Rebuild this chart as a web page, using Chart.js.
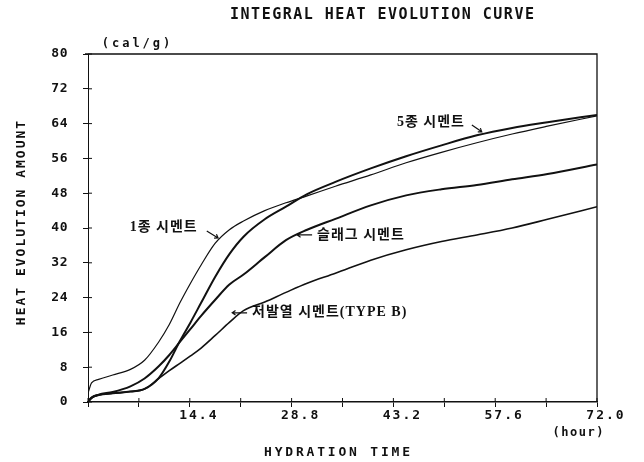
<!DOCTYPE html>
<html>
<head>
<meta charset="utf-8">
<script src="https://cdn.jsdelivr.net/npm/chart.js@4.4.1/dist/chart.umd.min.js"></script>
<style>
  html, body { margin: 0; padding: 0; background: #fff; }
</style>
</head>
<body>
<canvas id="heatChart" width="644" height="462"></canvas>
<script>
// hydration time (hour) and integral heat (cal/g)
const hours   = [0, 0.5, 1.5, 3.5, 6, 8, 10, 11.5, 13, 14.5, 16, 18, 20, 22, 25, 28, 31, 35, 40, 45, 50, 55, 60, 65, 72];
const type1   = [2.0, 4.4, 5.2, 6.2, 7.5, 9.6, 13.8, 17.8, 22.8, 27.3, 31.5, 36.5, 39.6, 41.6, 44.0, 45.8, 47.4, 49.6, 52.2, 55.0, 57.4, 59.6, 61.6, 63.4, 65.8];
const type5   = [0, 1.0, 1.6, 2.0, 2.4, 3.0, 5.5, 9.3, 14.0, 18.3, 22.8, 28.8, 34.0, 38.0, 42.0, 44.9, 47.8, 50.6, 53.7, 56.5, 59.0, 61.3, 63.0, 64.3, 66.0];
const slag    = [0, 1.0, 1.7, 2.3, 3.6, 5.4, 8.2, 10.8, 13.8, 16.8, 19.8, 23.5, 27.0, 29.3, 33.3, 37.2, 39.6, 42.1, 45.2, 47.5, 48.9, 49.9, 51.2, 52.4, 54.6];
const lowHeat = [0, 0.9, 1.6, 2.0, 2.4, 3.0, 5.4, 7.2, 8.9, 10.6, 12.4, 15.3, 18.3, 21.0, 23.0, 25.2, 27.3, 29.6, 32.6, 35.0, 36.9, 38.4, 40.0, 42.0, 44.9];

const xTickValues = [0, 7.2, 14.4, 21.6, 28.8, 36, 43.2, 50.4, 57.6, 64.8, 72];
const xTickLabels = ['', '', '14.4', '', '28.8', '', '43.2', '', '57.6', '', '72.0'];
const yTickValues = [0, 8, 16, 24, 32, 40, 48, 56, 64, 72, 80];

// curve labels and arrows, placed in data units (hour, cal/g)
const notes = [
    { text: '1종 시멘트', x: 5.9, y: 40.2, from: [16.8, 39.3], to: [18.4, 37.7] },
    { text: '5종 시멘트', x: 43.7, y: 64.3, from: [54.3, 63.7], to: [55.7, 62.1] },
    { text: '슬래그 시멘트', x: 32.4, y: 38.4, from: [31.7, 38.4], to: [29.6, 38.4] },
    { text: '저발열 시멘트(TYPE B)', x: 23.2, y: 20.5, from: [22.5, 20.5], to: [20.4, 20.5] }
];

const MONO = '"DejaVu Sans Mono", monospace';
const INK = '#111';

function pairs(values) {
    return hours.map((h, i) => ({ x: h, y: values[i] }));
}

function spacedText(ctx, text, x, y, spacing) {
    ctx.letterSpacing = spacing + 'px';
    ctx.fillText(text, x + spacing / 2, y);
}

const framePlugin = {
    id: 'frame',
    beforeDraw(chart) {
        chart.ctx.letterSpacing = '0.5px';   // y tick labels
    },
    afterDatasetsDraw(chart) {
        chart.ctx.letterSpacing = '2px';     // x tick labels (drawn on top layer)
    },
    afterDraw(chart) {
        const { ctx, chartArea: a, scales: { x, y } } = chart;
        ctx.save();
        ctx.strokeStyle = INK;
        ctx.fillStyle = INK;

        // top and right edge of the box
        ctx.lineWidth = 1.3;
        ctx.beginPath();
        ctx.moveTo(a.left - 3, a.top);
        ctx.lineTo(a.right, a.top);
        ctx.lineTo(a.right, a.bottom);
        ctx.stroke();

        // inner half of the cross-shaped tick marks
        ctx.lineWidth = 1;
        ctx.beginPath();
        xTickValues.forEach(v => {
            const px = x.getPixelForValue(v);
            ctx.moveTo(px, a.bottom);
            ctx.lineTo(px, a.bottom - 4);
        });
        yTickValues.forEach(v => {
            const py = y.getPixelForValue(v);
            ctx.moveTo(a.left, py);
            ctx.lineTo(a.left + 4, py);
        });
        ctx.stroke();

        ctx.textAlign = 'center';
        ctx.textBaseline = 'middle';

        ctx.font = 'bold 15px ' + MONO;
        spacedText(ctx, 'INTEGRAL HEAT EVOLUTION CURVE', 382, 15, 1.5);

        ctx.font = 'bold 12px ' + MONO;
        spacedText(ctx, '(cal/g)', a.left + 48, a.top - 10, 3);
        spacedText(ctx, '(hour)', a.right - 19, a.bottom + 31, 1.5);

        ctx.font = 'bold 13px ' + MONO;
        spacedText(ctx, 'HYDRATION TIME', 337, 453, 2.8);

        ctx.save();
        ctx.translate(22, 223);
        ctx.rotate(-Math.PI / 2);
        spacedText(ctx, 'HEAT EVOLUTION AMOUNT', 0, 0, 2);
        ctx.restore();

        // curve labels and their little arrows
        ctx.textAlign = 'left';
        ctx.font = 'bold 14px "Liberation Serif", "Noto Sans CJK KR", serif';
        ctx.letterSpacing = '1px';
        notes.forEach(n => {
            ctx.fillText(n.text, x.getPixelForValue(n.x), y.getPixelForValue(n.y));
            const x1 = x.getPixelForValue(n.from[0]), y1 = y.getPixelForValue(n.from[1]);
            const x2 = x.getPixelForValue(n.to[0]), y2 = y.getPixelForValue(n.to[1]);
            const ang = Math.atan2(y2 - y1, x2 - x1);
            ctx.lineWidth = 1.2;
            ctx.beginPath();
            ctx.moveTo(x1, y1);
            ctx.lineTo(x2, y2);
            ctx.moveTo(x2 - 4 * Math.cos(ang - 0.6), y2 - 4 * Math.sin(ang - 0.6));
            ctx.lineTo(x2, y2);
            ctx.lineTo(x2 - 4 * Math.cos(ang + 0.6), y2 - 4 * Math.sin(ang + 0.6));
            ctx.stroke();
        });
        ctx.restore();
    }
};

const ctx = document.getElementById('heatChart').getContext('2d');
new Chart(ctx, {
    type: 'line',
    data: {
        datasets: [
            { label: '1종 시멘트', data: pairs(type1), borderWidth: 1.2 },
            { label: '5종 시멘트', data: pairs(type5), borderWidth: 2 },
            { label: '슬래그 시멘트', data: pairs(slag), borderWidth: 2 },
            { label: '저발열 시멘트(TYPE B)', data: pairs(lowHeat), borderWidth: 1.6 }
        ]
    },
    options: {
        responsive: false,
        animation: false,
        layout: { padding: { top: 54, right: 47, left: 0, bottom: 0 } },
        elements: {
            point: { radius: 0 },
            line: { borderColor: INK, cubicInterpolationMode: 'monotone', fill: false }
        },
        plugins: {
            legend: { display: false },
            tooltip: { enabled: false }
        },
        scales: {
            x: {
                type: 'linear',
                min: 0,
                max: 72,
                afterBuildTicks: s => { s.ticks = xTickValues.map(v => ({ value: v })); },
                afterFit: s => { s.height = 60; },
                ticks: {
                    callback: (v, i) => xTickLabels[i],
                    autoSkip: false,
                    maxRotation: 0,
                    padding: 1,
                    labelOffset: 9,
                    color: INK,
                    font: { family: MONO, size: 13, weight: 'bold' },
                    z: 1
                },
                grid: { drawOnChartArea: false, tickLength: 5, color: INK },
                border: { color: INK, width: 1.5 }
            },
            y: {
                min: 0,
                max: 80,
                afterBuildTicks: s => { s.ticks = yTickValues.map(v => ({ value: v })); },
                afterFit: s => { s.width = 88; },
                ticks: {
                    padding: 15,
                    color: INK,
                    font: { family: MONO, size: 13, weight: 'bold' }
                },
                grid: { drawOnChartArea: false, tickLength: 5, color: INK },
                border: { color: INK, width: 1, dash: [6, 2, 1, 2] }
            }
        }
    },
    plugins: [framePlugin]
});
</script>
</body>
</html>
